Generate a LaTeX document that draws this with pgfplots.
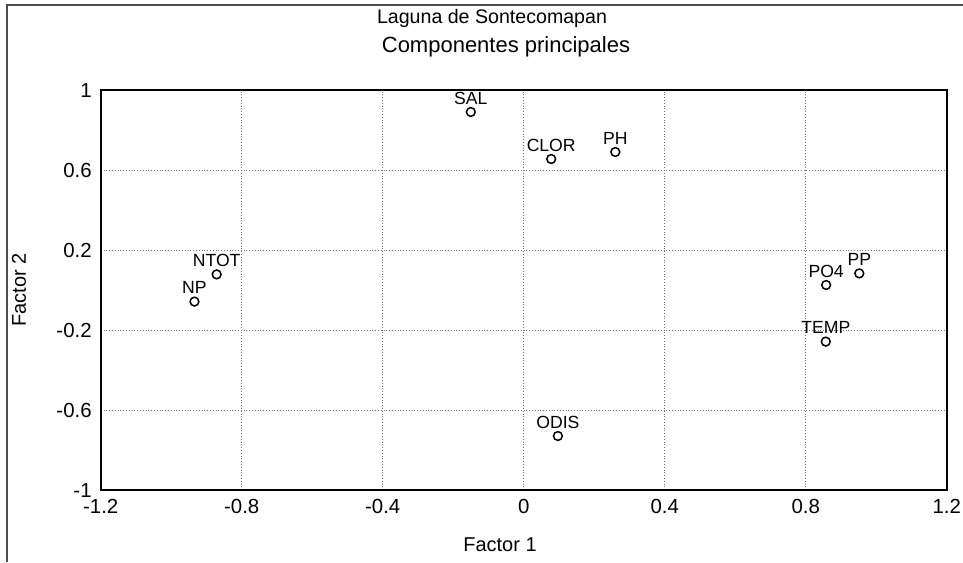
\documentclass[border=0pt]{standalone}
\usepackage{pgfplots}
\pgfplotsset{compat=1.18}
\usepackage{fontspec}
\setmainfont{Liberation Sans}

\begin{document}
\begin{tikzpicture}[x=1pt,y=1pt]
  % page frame: 963x562 px at 0.5pt per px
  \useasboundingbox (0,0) rectangle (481.5,281);
  \draw[black!70, line width=0.6pt] (3.5,0) -- (3.5,278.5) -- (481.5,278.5);

  \begin{axis}[
      at={(50.35pt,36pt)}, anchor=south west,
      scale only axis,
      width=423pt, height=200pt,
      xmin=-1.2, xmax=1.2,
      ymin=-1, ymax=1,
      xtick={-1.2,-0.8,-0.4,0,0.4,0.8,1.2},
      ytick={-1,-0.6,-0.2,0.2,0.6,1},
      tick style={draw=none},
      grid=major,
      major grid style={black!55, densely dotted, line width=0.4pt},
      axis line style={line width=0.8pt},
      ticklabel style={font=\fontsize{10.2}{12}\selectfont},
      /pgf/number format/assume math mode=true,
      xticklabel style={yshift=-1pt},
      yticklabel style={xshift=-1pt},
      clip=false,
    ]
    \addplot[
      only marks,
      mark=o,
      mark size=2.2pt,
      mark options={line width=0.75pt},
      point meta=explicit symbolic,
      nodes near coords,
      every node near coord/.append style={anchor=south, inner sep=0pt,
        yshift=3.5pt, font=\fontsize{8.8}{10}\selectfont},
    ] table[meta=label] {
      x      y      label
      -0.150  0.890  SAL
       0.078  0.655  CLOR
       0.260  0.690  PH
      -0.871  0.078  NTOT
      -0.934 -0.058  NP
       0.858  0.025  PO4
       0.952  0.083  PP
       0.857 -0.258  TEMP
       0.097 -0.730  ODIS
    };
  \end{axis}

  \node[font=\fontsize{9.8}{11}\selectfont] at (246,272) {Laguna de Sontecomapan};
  \node[font=\fontsize{11}{13}\selectfont] at (253,257.5) {Componentes principales};
  \node[font=\fontsize{10}{12}\selectfont] at (250,8.5) {Factor 1};
  \node[font=\fontsize{10}{12}\selectfont, rotate=90] at (9.5,136) {Factor 2};
\end{tikzpicture}
\end{document}
